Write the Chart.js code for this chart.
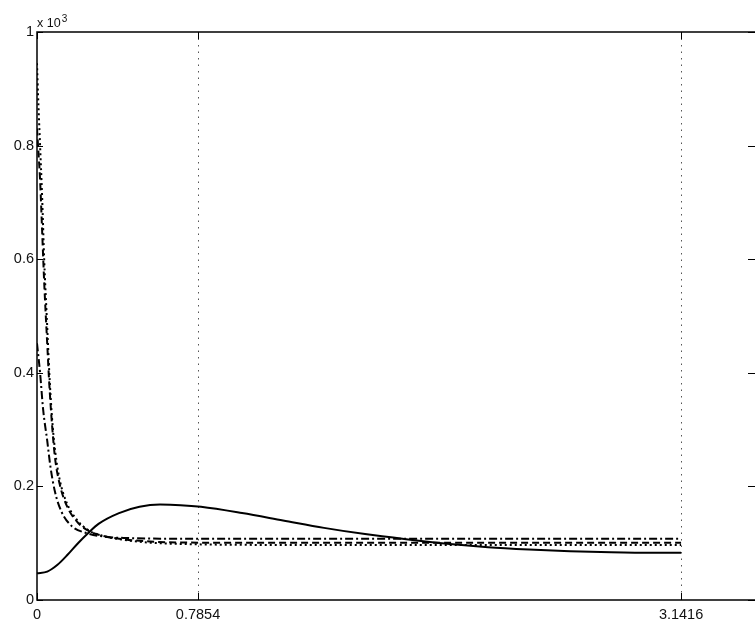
<!DOCTYPE html>
<html>
<head>
<meta charset="utf-8">
<script src="https://cdn.jsdelivr.net/npm/chart.js@4"></script>
<style>
  html, body { margin: 0; padding: 0; background: #fff; overflow: hidden; }
  #wrap { width: 765px; height: 631px; }
</style>
</head>
<body>
<div id="wrap"><canvas id="chart" width="765" height="631"></canvas></div>
<script>
// axis ticks
const xTicks = [0, 0.7854, 3.1416];
const xTickLabels = ['0', '0.7854', '3.1416'];
const yTicks = [0, 0.2, 0.4, 0.6, 0.8, 1];
const yTickLabels = ['0', '0.2', '0.4', '0.6', '0.8', '1'];

// solid curve
const solidX = [0, 0.05, 0.1, 0.15, 0.2, 0.25, 0.3, 0.4, 0.5, 0.6, 0.7, 0.8, 1.0, 1.2, 1.4, 1.6, 1.8, 2.0, 2.2, 2.4, 2.6, 2.8, 3.0, 3.1416];
const solidY = [0.047, 0.050, 0.062, 0.080, 0.100, 0.118, 0.134, 0.153, 0.164, 0.168, 0.167, 0.164, 0.153, 0.140, 0.127, 0.116, 0.107, 0.099, 0.093, 0.089, 0.086, 0.084, 0.083, 0.083];

// dashed curve
const dashedX = [0, 0.005, 0.015, 0.025, 0.035, 0.05, 0.06, 0.073, 0.088, 0.11, 0.145, 0.195, 0.25, 0.32, 0.42, 0.55, 0.7854, 1.2, 1.8, 2.4, 3.1416];
const dashedY = [0.83, 0.80, 0.74, 0.65, 0.56, 0.45, 0.38, 0.31, 0.25, 0.205, 0.166, 0.138, 0.122, 0.113, 0.107, 0.103, 0.101, 0.101, 0.101, 0.101, 0.101];

// dotted curve
const dottedX = [0, 0.005, 0.015, 0.025, 0.035, 0.05, 0.06, 0.073, 0.088, 0.11, 0.145, 0.195, 0.25, 0.32, 0.42, 0.55, 0.7854, 1.2, 1.8, 2.4, 3.1416];
const dottedY = [0.945, 0.89, 0.80, 0.71, 0.60, 0.48, 0.40, 0.322, 0.264, 0.213, 0.171, 0.141, 0.123, 0.113, 0.106, 0.101, 0.098, 0.097, 0.097, 0.097, 0.097];

// dash-dot curve
const dashDotX = [0, 0.015, 0.03, 0.05, 0.065, 0.088, 0.12, 0.17, 0.24, 0.34, 0.45, 0.6, 0.7854, 1.2, 2.0, 3.1416];
const dashDotY = [0.452, 0.40, 0.335, 0.28, 0.236, 0.19, 0.155, 0.13, 0.118, 0.111, 0.109, 0.108, 0.108, 0.108, 0.108, 0.108];

const FONT = { family: 'Liberation Sans, Arial, Helvetica, sans-serif', size: 14.5 };
const INK = '#111';

function toPoints(xs, ys) {
    return xs.map((x, i) => ({ x: x, y: ys[i] }));
}

function lineSet(label, xs, ys, dash) {
    return {
        label: label,
        data: toPoints(xs, ys),
        borderColor: '#000',
        borderWidth: 2,
        borderDash: dash,
        pointRadius: 0,
        fill: false,
        cubicInterpolationMode: 'monotone'
    };
}

// matlab style box, inward ticks, dotted x grid, exponent label
const matlabAxes = {
    id: 'matlabAxes',
    beforeDatasetsDraw(chart) {
        const { ctx, chartArea: a, scales: { x } } = chart;
        ctx.save();
        ctx.strokeStyle = '#555';
        ctx.lineWidth = 1;
        ctx.setLineDash([1.5, 5]);
        xTicks.forEach(v => {
            if (v === 0) return;
            const px = Math.round(x.getPixelForValue(v)) + 0.5;
            ctx.beginPath();
            ctx.moveTo(px, a.top);
            ctx.lineTo(px, a.bottom);
            ctx.stroke();
        });
        ctx.restore();
    },
    afterDraw(chart) {
        const { ctx, chartArea: a, scales: { x, y } } = chart;
        ctx.save();
        ctx.strokeStyle = '#000';
        ctx.lineWidth = 1.5;
        ctx.setLineDash([]);
        ctx.strokeRect(a.left, a.top, a.right - a.left, a.bottom - a.top);
        ctx.lineWidth = 1;
        ctx.beginPath();
        yTicks.forEach(v => {
            const py = Math.round(y.getPixelForValue(v)) + 0.5;
            ctx.moveTo(a.left, py); ctx.lineTo(a.left + 6, py);
            ctx.moveTo(a.right, py); ctx.lineTo(a.right - 9, py);
        });
        xTicks.forEach(v => {
            const px = Math.round(x.getPixelForValue(v)) + 0.5;
            ctx.moveTo(px, a.bottom); ctx.lineTo(px, a.bottom - 7);
            ctx.moveTo(px, a.top); ctx.lineTo(px, a.top + 7);
        });
        ctx.stroke();

        // exponent label above the y axis
        ctx.fillStyle = INK;
        ctx.textBaseline = 'alphabetic';
        ctx.textAlign = 'left';
        ctx.font = '12.5px ' + FONT.family;
        ctx.fillText('x 10', a.left, a.top - 5);
        const w = ctx.measureText('x 10').width;
        ctx.font = '10px ' + FONT.family;
        ctx.fillText('3', a.left + w + 1, a.top - 10.5);
        ctx.restore();
    }
};

new Chart(document.getElementById('chart'), {
    type: 'line',
    data: {
        datasets: [
            lineSet('solid', solidX, solidY, []),
            lineSet('dashed', dashedX, dashedY, [7, 4]),
            lineSet('dotted', dottedX, dottedY, [2, 3]),
            lineSet('dash-dot', dashDotX, dashDotY, [8, 3, 2, 3])
        ]
    },
    options: {
        responsive: false,
        animation: false,
        devicePixelRatio: 1,
        layout: { padding: { top: 32, right: 8, left: 0, bottom: 0 } },
        plugins: { legend: { display: false }, tooltip: { enabled: false } },
        scales: {
            x: {
                type: 'linear',
                min: 0,
                max: 3.512,
                afterBuildTicks: s => { s.ticks = xTicks.map(v => ({ value: v })); },
                afterFit: s => { s.height = 31; },
                grid: { display: false, drawTicks: false },
                border: { display: false },
                ticks: {
                    color: INK,
                    font: FONT,
                    padding: 6,
                    maxRotation: 0,
                    autoSkip: false,
                    callback: (v, i) => xTickLabels[i]
                }
            },
            y: {
                type: 'linear',
                min: 0,
                max: 1,
                afterBuildTicks: s => { s.ticks = yTicks.map(v => ({ value: v })); },
                afterFit: s => { s.width = 37; },
                grid: { display: false, drawTicks: false },
                border: { display: false },
                ticks: {
                    color: INK,
                    font: FONT,
                    padding: 3,
                    autoSkip: false,
                    callback: (v, i) => yTickLabels[i]
                }
            }
        }
    },
    plugins: [matlabAxes]
});
</script>
</body>
</html>
